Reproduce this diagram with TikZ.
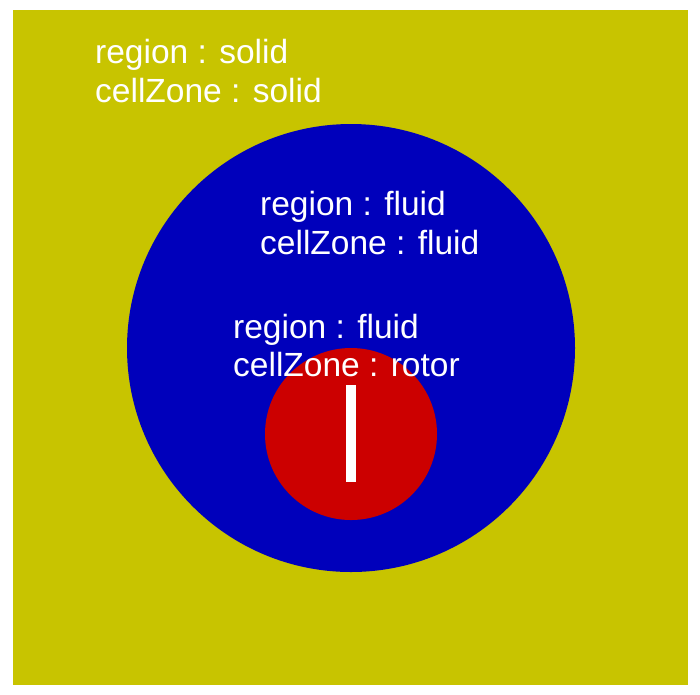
\documentclass[tikz,border=0pt]{standalone}
\usepackage{fontspec}
\setmainfont{Liberation Sans}
\definecolor{solidc}{RGB}{200,196,0}
\definecolor{fluidc}{RGB}{0,0,187}
\definecolor{rotorc}{RGB}{204,0,0}
\begin{document}
\begin{tikzpicture}[x=1pt,y=-1pt,
  lbl/.style={anchor=base west,inner sep=0pt,text=white,font=\fontsize{33.5}{40}\selectfont}]
\useasboundingbox (0,0) rectangle (700,694);
\fill[white] (0,0) rectangle (700,694);
\fill[solidc] (13,10) rectangle (688,685);
\fill[fluidc] (351,348) circle[radius=224];
\fill[rotorc] (351,434) circle[radius=86];
\fill[white] (346,385) rectangle (356,482);
\node[lbl] (s1) at (95,63) {region : solid};
\node[lbl] (s2) at (95,102) {cellZone : solid};
\node[lbl] (f1) at (260,215) {region : fluid};
\node[lbl] (f2) at (260,254) {cellZone : fluid};
\node[lbl] (r1) at (233,338) {region : fluid};
\node[lbl] (r2) at (233,376) {cellZone : rotor};
\end{tikzpicture}
\end{document}
